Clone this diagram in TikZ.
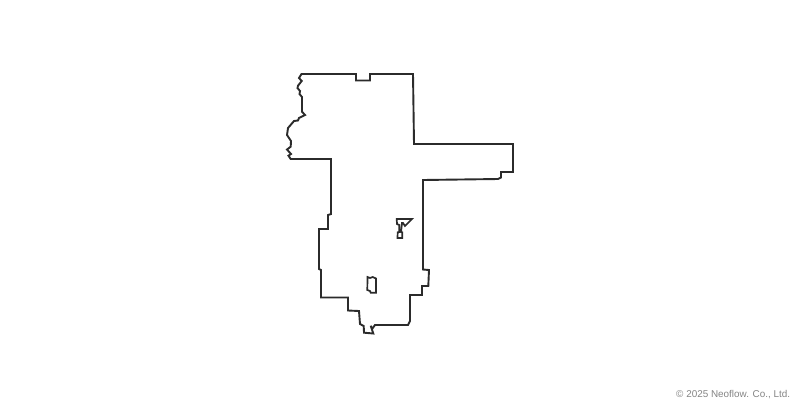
\documentclass[tikz,border=0pt]{standalone}
\usepackage{fontspec}
\setmainfont{Liberation Sans}
\definecolor{outline}{HTML}{2B2B2B}
\definecolor{credit}{HTML}{858585}
\tikzset{
  region/.style={draw=outline,line width=1.9pt,line join=miter,miter limit=3},
  creditlabel/.style={text=credit,font=\fontsize{9.9}{12}\selectfont,inner sep=0pt,anchor=east}
}
\begin{document}
\begin{tikzpicture}[x=1pt,y=-1pt]
\useasboundingbox (0,0) rectangle (800,408);
\fill[white] (0,0) rectangle (800,408);
\draw[region] (301.5,74) -- (356,74) -- (356,80.5) -- (370,80.5) -- (370,74) -- (413,74) -- (414,144) -- (513,144) -- (513,172) -- (501,172) -- (501,177.5) -- (498,179) -- (423,180) -- (423,269.5) -- (429,270) -- (428.3,286) -- (422,286) -- (422,295) -- (410,295) -- (410,321) -- (408,325) -- (375,325) -- (372,329) -- (370.7,325.7) -- (373.3,333.5) -- (364,332.7) -- (363.7,326) -- (360,324) -- (359,311) -- (348,310.5) -- (348,297.5) -- (321,297.5) -- (321,270) -- (319,269) -- (319,229) -- (328,229) -- (328,215) -- (331,214) -- (331,159) -- (290.7,159) -- (288.5,155.7) -- (291,154) -- (287,149.5) -- (290.7,146.7) -- (291,141) -- (287,135) -- (288,128) -- (294,121) -- (298,120.5) -- (299,118) -- (305,115) -- (302,111.7) -- (302,97) -- (299.5,94) -- (300,91) -- (297.5,88) -- (298,85.7) -- (301.7,81) -- (299,78) -- cycle;
\draw[region,line width=1.7pt] (396.7,219) -- (412,219) -- (405,226) -- (403,223) -- (402,223) -- (401,232) -- (402.3,232.3) -- (402.3,238) -- (397.5,238) -- (397.7,232.3) -- (399.3,232) -- (399.3,225) -- (397,224) -- cycle;
\draw[region,line width=1.7pt] (367.5,277) -- (370,278) -- (372.7,277) -- (376,278.5) -- (376,292.7) -- (370.7,292.7) -- (370,291) -- (367.3,290) -- cycle;
\node[creditlabel] (credit) at (790.3,395) {© 2025 Neoflow. Co., Ltd.};
\end{tikzpicture}
\end{document}
